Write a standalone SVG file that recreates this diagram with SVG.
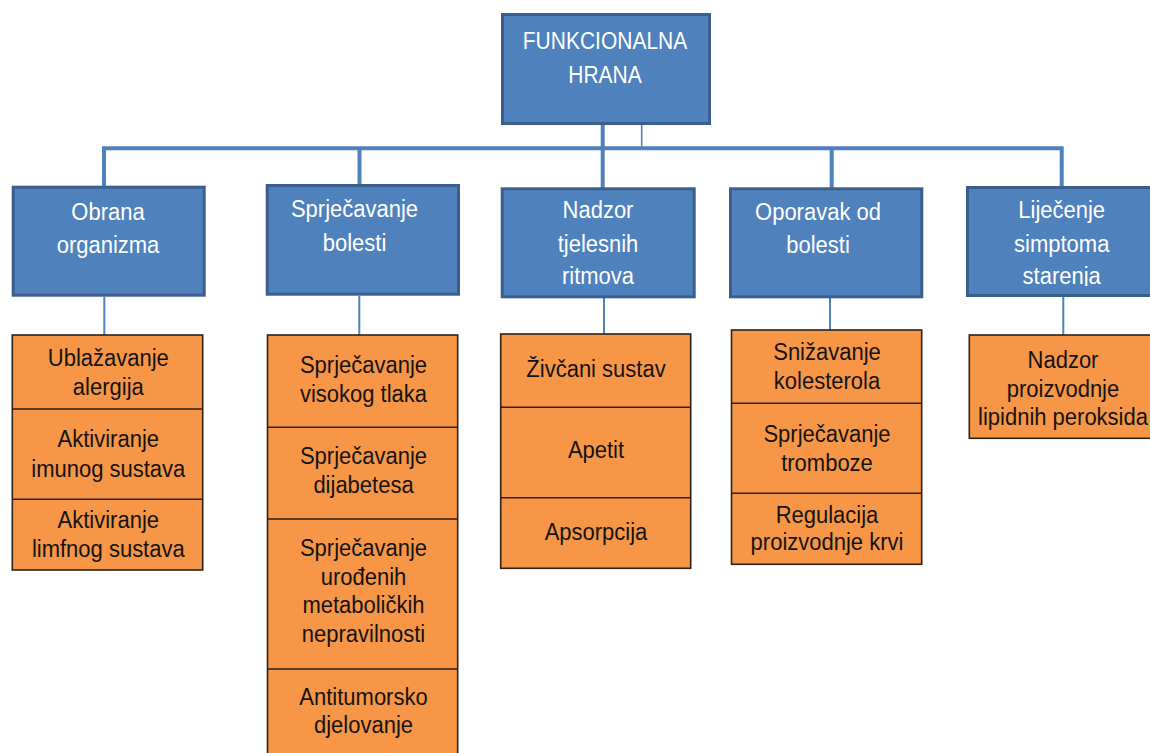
<svg xmlns="http://www.w3.org/2000/svg" width="1150" height="753" viewBox="0 0 1150 753">
<defs>
<style>
.bl{fill:#4f81bd;stroke:#3b5f8c;stroke-width:3}
.or{fill:#f79646;stroke:#2b2218;stroke-width:1.6}
.dv{stroke:#2b2218;stroke-width:1.6;fill:none}
.ct{stroke:#4f81bd;fill:none}
.tw{font-family:"Liberation Sans",Arial,sans-serif;font-size:22px;fill:#ffffff;text-anchor:middle}
.tr{font-family:"Liberation Sans",Arial,sans-serif;font-size:21px;fill:#ffffff;text-anchor:middle}
.tk{font-family:"Liberation Sans",Arial,sans-serif;font-size:22px;fill:#141414;text-anchor:middle}
</style>
<clipPath id="clipStar"><rect x="960" y="180" width="200" height="106"/></clipPath>
</defs>
<rect width="1150" height="753" fill="#ffffff"/>

<g id="connectors">
<path class="ct" stroke-width="4" d="M602.7 125 V188"/>
<path class="ct" stroke-width="1.6" d="M641.7 125 V148"/>
<path class="ct" stroke-width="4" stroke-linejoin="miter" d="M104 186 V148.3 H1061.7 V186"/>
<path class="ct" stroke-width="4" d="M359.5 148 V185"/>
<path class="ct" stroke-width="4" d="M831.7 148 V188"/>
<path class="ct" stroke-width="2" d="M104.3 297 V335"/>
<path class="ct" stroke-width="2" d="M359.3 296 V335"/>
<path class="ct" stroke-width="2" d="M604 298 V334"/>
<path class="ct" stroke-width="2" d="M830 298 V330"/>
<path class="ct" stroke-width="2" d="M1063.3 297 V335"/>
</g>

<g id="root">
<rect class="bl" x="502.5" y="14.5" width="207" height="109"/>
<text class="tr" transform="translate(605,49.3) scale(1,1.1)">FUNKCIONALNA</text>
<text class="tr" transform="translate(605,82.7) scale(1,1.1)">HRANA</text>
</g>

<g id="obrana">
<rect class="bl" x="13.2" y="187.2" width="191" height="108"/>
<text class="tw" transform="translate(108,220) scale(1,1.06)">Obrana</text>
<text class="tw" transform="translate(108,253.3) scale(1,1.06)">organizma</text>
</g>

<g id="sprjecavanje">
<rect class="bl" x="267.2" y="185.5" width="191.3" height="108.7"/>
<text class="tw" transform="translate(354.5,217.3) scale(1,1.06)">Sprječavanje</text>
<text class="tw" transform="translate(354.5,250.7) scale(1,1.06)">bolesti</text>
</g>

<g id="nadzor">
<rect class="bl" x="502.2" y="188.8" width="192" height="108"/>
<text class="tw" transform="translate(598,218.3) scale(1,1.06)">Nadzor</text>
<text class="tw" transform="translate(598,251.7) scale(1,1.06)">tjelesnih</text>
<text class="tw" transform="translate(598,284.3) scale(1,1.06)">ritmova</text>
</g>

<g id="oporavak">
<rect class="bl" x="730.5" y="188.8" width="191.3" height="108"/>
<text class="tw" transform="translate(818,220) scale(1,1.06)">Oporavak od</text>
<text class="tw" transform="translate(818,253.3) scale(1,1.06)">bolesti</text>
</g>

<g id="lijecenje">
<rect class="bl" x="967.5" y="187.5" width="195" height="108"/>
<text class="tw" transform="translate(1061.7,218.3) scale(1,1.06)">Liječenje</text>
<text class="tw" transform="translate(1061.7,251.7) scale(1,1.06)">simptoma</text>
<g clip-path="url(#clipStar)"><text class="tw" transform="translate(1061.7,284.3) scale(1,1.06)">starenja</text></g>
</g>

<g id="obrana-list">
<rect class="or" x="12.3" y="335" width="190.4" height="235"/>
<path class="dv" d="M12.3 409 H202.7 M12.3 499.3 H202.7"/>
<text class="tk" transform="translate(108.3,366) scale(1,1.06)">Ublažavanje</text>
<text class="tk" transform="translate(108.3,395) scale(1,1.06)">alergija</text>
<text class="tk" transform="translate(108.3,446.7) scale(1,1.06)">Aktiviranje</text>
<text class="tk" transform="translate(108.3,476.7) scale(1,1.06)">imunog sustava</text>
<text class="tk" transform="translate(108.3,528.3) scale(1,1.06)">Aktiviranje</text>
<text class="tk" transform="translate(108.3,557.3) scale(1,1.06)">limfnog sustava</text>
</g>

<g id="sprjecavanje-list">
<rect class="or" x="267.5" y="335" width="190.2" height="430"/>
<path class="dv" d="M267.5 427.3 H457.7 M267.5 519 H457.7 M267.5 669 H457.7"/>
<text class="tk" transform="translate(363.5,373.3) scale(1,1.06)">Sprječavanje</text>
<text class="tk" transform="translate(363.5,401.7) scale(1,1.06)">visokog tlaka</text>
<text class="tk" transform="translate(363.5,464) scale(1,1.06)">Sprječavanje</text>
<text class="tk" transform="translate(363.5,493.3) scale(1,1.06)">dijabetesa</text>
<text class="tk" transform="translate(363.5,555.5) scale(1,1.06)">Sprječavanje</text>
<text class="tk" transform="translate(363.5,585) scale(1,1.06)">urođenih</text>
<text class="tk" transform="translate(363.5,613.3) scale(1,1.06)">metaboličkih</text>
<text class="tk" transform="translate(363.5,641.7) scale(1,1.06)">nepravilnosti</text>
<text class="tk" transform="translate(363.5,705) scale(1,1.06)">Antitumorsko</text>
<text class="tk" transform="translate(363.5,733.3) scale(1,1.06)">djelovanje</text>
</g>

<g id="nadzor-list">
<rect class="or" x="500.7" y="334" width="190" height="234.3"/>
<path class="dv" d="M500.7 407.3 H690.7 M500.7 497.7 H690.7"/>
<text class="tk" transform="translate(596,376.7) scale(1,1.06)">Živčani sustav</text>
<text class="tk" transform="translate(596,458.3) scale(1,1.06)">Apetit</text>
<text class="tk" transform="translate(596,540) scale(1,1.06)">Apsorpcija</text>
</g>

<g id="oporavak-list">
<rect class="or" x="731.5" y="330" width="190.2" height="234.3"/>
<path class="dv" d="M731.5 403.3 H921.7 M731.5 493.3 H921.7"/>
<text class="tk" transform="translate(827,360) scale(1,1.06)">Snižavanje</text>
<text class="tk" transform="translate(827,389.3) scale(1,1.06)">kolesterola</text>
<text class="tk" transform="translate(827,441.7) scale(1,1.06)">Sprječavanje</text>
<text class="tk" transform="translate(827,471) scale(1,1.06)">tromboze</text>
<text class="tk" transform="translate(827,522.7) scale(1,1.06)">Regulacija</text>
<text class="tk" transform="translate(827,550) scale(1,1.06)">proizvodnje krvi</text>
</g>

<g id="lijecenje-list">
<rect class="or" x="969.3" y="335" width="195" height="103.3"/>
<text class="tk" transform="translate(1063,368.3) scale(1,1.06)">Nadzor</text>
<text class="tk" transform="translate(1063,396.7) scale(1,1.06)">proizvodnje</text>
<text class="tk" transform="translate(1063,425) scale(1,1.06)">lipidnih peroksida</text>
</g>
</svg>
